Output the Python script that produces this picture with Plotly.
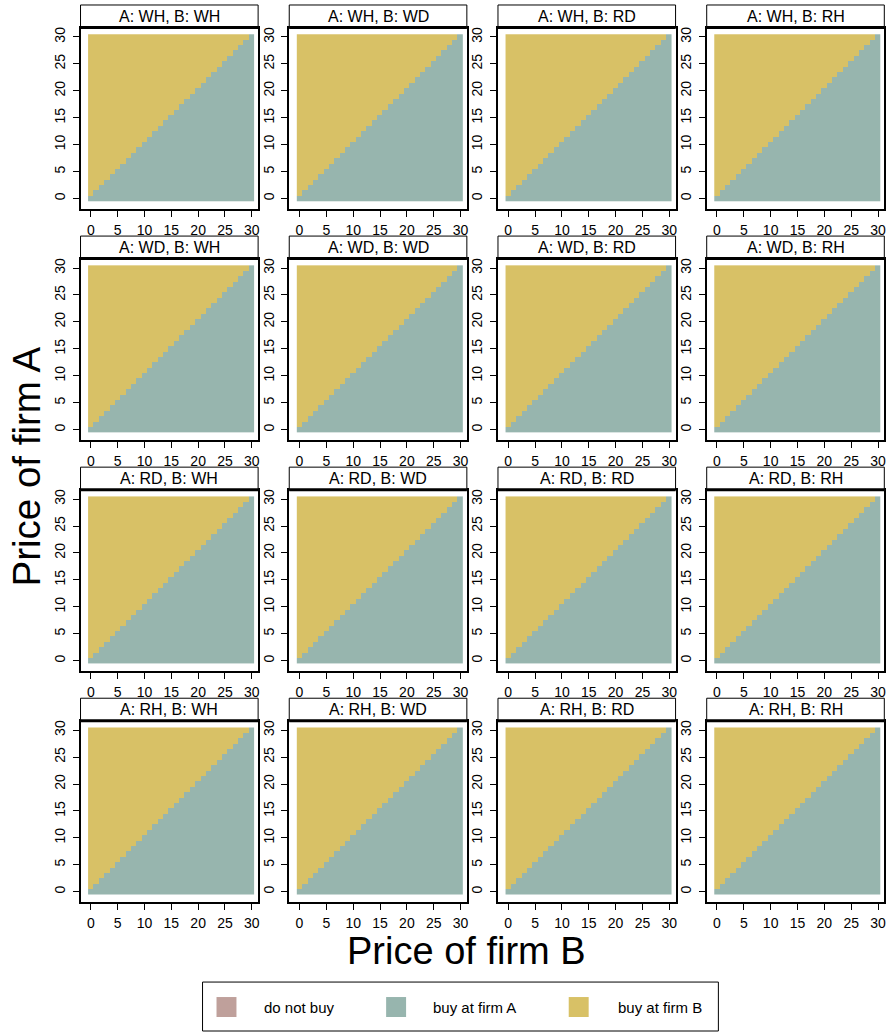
import plotly.graph_objects as go

# ---------------- data ----------------
firm_types = ["WH", "WD", "RD", "RH"]          # rows: type of A, columns: type of B
prices_B = [0, 1, 2, 3, 4, 5, 6, 7, 8, 9, 10, 11, 12, 13, 14, 15,
            16, 17, 18, 19, 20, 21, 22, 23, 24, 25, 26, 27, 28, 29, 30]
prices_A = [0, 1, 2, 3, 4, 5, 6, 7, 8, 9, 10, 11, 12, 13, 14, 15,
            16, 17, 18, 19, 20, 21, 22, 23, 24, 25, 26, 27, 28, 29, 30]
# highest price of firm A at which the customer still buys at A, for each price of B
# (identical in every panel)
max_price_A_buy_A = [0, 1, 2, 3, 4, 5, 6, 7, 8, 9, 10, 11, 12, 13, 14, 15,
                     16, 17, 18, 19, 20, 21, 22, 23, 24, 25, 26, 27, 28, 29, 30]
# lowest price of A at which nobody buys (none inside the price grid)
min_price_A_no_buy = [None] * 31

tick_vals = [0, 5, 10, 15, 20, 25, 30]
tick_text = ["0", "5", "10", "15", "20", "25", "30"]
choice_labels = ["do not buy", "buy at firm A", "buy at firm B"]
choice_colors = ["#BFA09B", "#97B5AE", "#D8C166"]

# ---------------- layout helpers ----------------
W, H = 888, 1032
FONT = "Liberation Sans, Arial, sans-serif"


def px(x):
    return x / W


def py(y):
    return 1 - y / H


col_left0, col_pitch, panel_w = 80.7, 209.2, 178.0
row_top0, row_pitch = 0.0, 231.3
strip_top_off, panel_top_off, panel_bot_off = 4.0, 27.0, 208.0

colorscale = [[0.0, choice_colors[0]], [1 / 3, choice_colors[0]],
              [1 / 3, choice_colors[1]], [2 / 3, choice_colors[1]],
              [2 / 3, choice_colors[2]], [1.0, choice_colors[2]]]

fig = go.Figure()
layout = dict(width=W, height=H, margin=dict(l=0, r=0, t=0, b=0),
              paper_bgcolor="white", plot_bgcolor="white",
              font=dict(family=FONT, color="black"), showlegend=False)
shapes, annotations = [], []

for r, a_type in enumerate(firm_types):
    for c, b_type in enumerate(firm_types):
        k = r * 4 + c + 1
        xs = "" if k == 1 else str(k)
        z = []
        for pa in prices_A:
            row = []
            for j, pb in enumerate(prices_B):
                nb = min_price_A_no_buy[j]
                if nb is not None and pa >= nb:
                    row.append(0)
                elif pa <= max_price_A_buy_A[j]:
                    row.append(1)
                else:
                    row.append(2)
            z.append(row)
        fig.add_trace(go.Heatmap(x=prices_B, y=prices_A, z=z, zmin=0, zmax=2,
                                 colorscale=colorscale, showscale=False,
                                 xaxis="x" + xs, yaxis="y" + xs,
                                 hoverinfo="skip"))
        left = col_left0 + c * col_pitch
        right = left + panel_w
        top = row_top0 + r * row_pitch + panel_top_off
        bot = row_top0 + r * row_pitch + panel_bot_off
        stop = row_top0 + r * row_pitch + strip_top_off
        axcommon = dict(showgrid=False, zeroline=False, showline=True, mirror=True,
                        linecolor="black", linewidth=2, ticks="outside", ticklen=6,
                        tickwidth=1, tickcolor="black", tickvals=tick_vals,
                        ticktext=tick_text, tickfont=dict(size=14, family=FONT))
        layout["xaxis" + xs] = dict(axcommon, domain=[px(left), px(right)],
                                    range=[-1.91, 31.17], anchor="y" + xs,
                                    ticklabelstandoff=1)
        layout["yaxis" + xs] = dict(axcommon, domain=[py(bot), py(top)],
                                    range=[-1.91, 31.67], anchor="x" + xs,
                                    tickangle=-90, ticklabelstandoff=2)
        # strip
        shapes.append(dict(type="rect", xref="paper", yref="paper",
                           x0=px(left), x1=px(right), y0=py(top), y1=py(stop),
                           fillcolor="white", line=dict(color="black", width=1)))
        shapes.append(dict(type="line", xref="paper", yref="paper",
                           x0=px(left), x1=px(right), y0=py(top - 0.5), y1=py(top - 0.5),
                           line=dict(color="black", width=3)))
        annotations.append(dict(text=f"A: {a_type}, B: {b_type}", xref="paper", yref="paper",
                                x=px((left + right) / 2), y=py((stop + top) / 2),
                                xanchor="center", yanchor="middle", showarrow=False,
                                font=dict(size=16, family=FONT)))

# axis titles
annotations.append(dict(text="Price of firm B", xref="paper", yref="paper",
                        x=px(468), y=py(951), xanchor="center", yanchor="middle",
                        showarrow=False, font=dict(size=38, family=FONT)))
annotations.append(dict(text="Price of firm A", xref="paper", yref="paper",
                        x=px(27), y=py(466), xanchor="center", yanchor="middle",
                        textangle=-90, showarrow=False, font=dict(size=38.5, family=FONT)))

# legend (drawn manually)
shapes.append(dict(type="rect", xref="paper", yref="paper",
                   x0=px(203), x1=px(720), y0=py(1031), y1=py(982),
                   fillcolor="white", line=dict(color="black", width=1)))
sq_centers = [227, 397, 580]
text_starts = [263, 432, 617]
for lab, col, sx, tx in zip(choice_labels, choice_colors, sq_centers, text_starts):
    shapes.append(dict(type="rect", xref="paper", yref="paper",
                       x0=px(sx - 10), x1=px(sx + 10), y0=py(1017), y1=py(997),
                       fillcolor=col, line=dict(color=col, width=0)))
    annotations.append(dict(text=lab, xref="paper", yref="paper", x=px(tx), y=py(1007),
                            xanchor="left", yanchor="middle", showarrow=False,
                            font=dict(size=15, family=FONT)))

layout["shapes"] = shapes
layout["annotations"] = annotations
fig.update_layout(**layout)
fig.write_html("out.html")
